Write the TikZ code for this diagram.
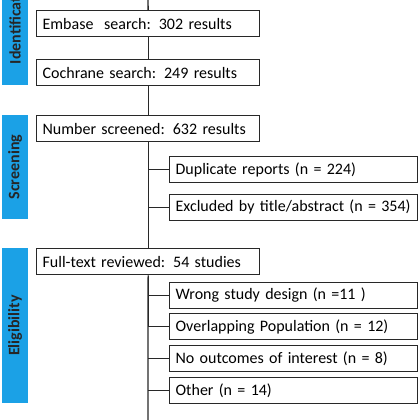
\documentclass[tikz,border=0pt]{standalone}
\usepackage{fontspec}
\setmainfont{Carlito}
\definecolor{barblue}{RGB}{27,161,230}
\definecolor{edge}{RGB}{40,40,40}
\begin{document}
\begin{tikzpicture}[x=1pt,y=-1pt,
  box/.style={draw=edge, line width=1.3pt, fill=white, anchor=north west,
    inner xsep=6pt, inner ysep=0pt, minimum height=26pt, align=left,
    font=\fontsize{16}{19}\selectfont},
  mainbox/.style={box, text width=211pt},
  sidebox/.style={box, text width=236pt},
  bar/.style={fill=barblue, rotate=90, minimum height=26pt, inner sep=0pt,
    font=\fontsize{16}{19}\selectfont\bfseries, text=black!85},
  link/.style={draw=edge, line width=1.3pt}]
\useasboundingbox (0,0) rectangle (420,420);
\clip (0,0) rectangle (420,420);
% phase bars
\node[bar, minimum width=130pt] (idb) at (15,20) {Identification};
\node[bar, minimum width=104pt] (scb) at (15,167) {Screening};
\node[bar, minimum width=155pt] (elb) at (15,325.5) {Eligibility};
% trunk ends
\coordinate (top) at (148,-2);
\coordinate (bot) at (148,422);
% main boxes
\node[mainbox] (emb) at (36,10) {Embase\ \ search: 302 results};
\node[mainbox] (coc) at (36,59) {Cochrane search: 249 results};
\node[mainbox] (scr) at (36,115) {Number screened: 632 results};
\node[mainbox] (ful) at (36,248) {Full-text reviewed: 54 studies};
% side boxes
\node[sidebox] (dup) at (169,156) {Duplicate reports (n = 224)};
\node[sidebox] (exc) at (169,193.5) {Excluded by title/abstract (n = 354)};
\node[sidebox] (wro) at (169,281.5) {Wrong study design (n =11 )};
\node[sidebox] (ove) at (169,313) {Overlapping Population (n = 12)};
\node[sidebox] (noo) at (169,345) {No outcomes of interest (n = 8)};
\node[sidebox] (oth) at (169,377) {Other (n = 14)};
% trunk
\draw[link] (top) -- (emb.north);
\draw[link] (emb.south) -- (coc.north);
\draw[link] (coc.south) -- (scr.north);
\draw[link] (scr.south) -- (ful.north);
\draw[link] (ful.south) -- (bot);
% branches
\foreach \b in {dup,exc,wro,ove,noo,oth}
  \draw[link] (\b.west) -- (\b.west -| top);
\end{tikzpicture}
\end{document}
